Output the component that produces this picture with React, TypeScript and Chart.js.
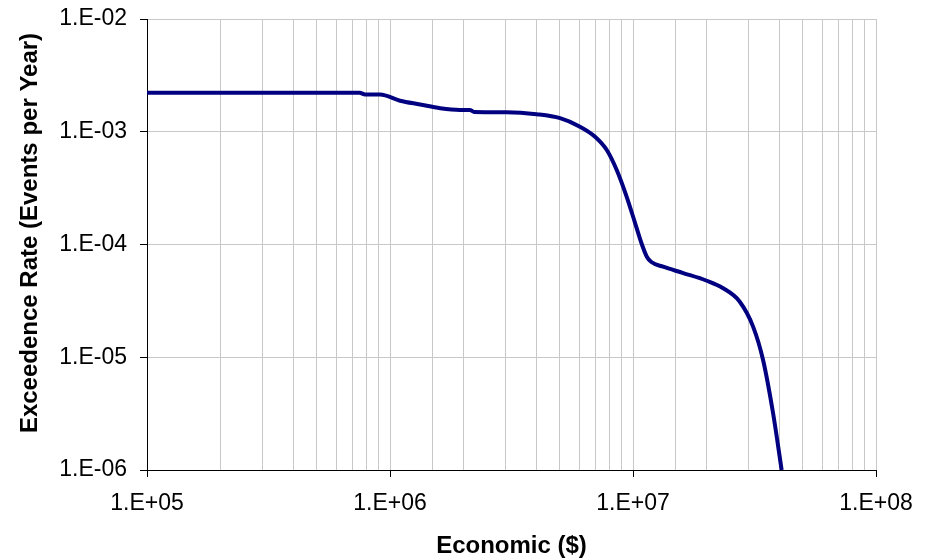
import React, { useEffect, useRef } from "react";
import { Chart, registerables } from "chart.js";

Chart.register(...registerables);

const economicLoss: number[] = [
  1.0e5, 7.5e5, 7.9e5, 9.1e5, 1.1e6, 1.33e6, 1.61e6, 1.94e6, 2.13e6, 2.22e6,
  3.02e6, 4.01e6, 5.01e6, 6.05e6, 6.98e6, 7.8e6, 8.57e6, 9.42e6, 1.02e7, 1.09e7,
  1.14e7, 1.19e7, 1.33e7, 1.61e7, 2.01e7, 2.34e7, 2.75e7, 3.12e7, 3.43e7, 3.77e7,
  4.09e7,
];
const exceedanceRate: number[] = [
  2.22e-3, 2.22e-3, 2.14e-3, 2.14e-3, 1.885e-3, 1.745e-3, 1.615e-3, 1.56e-3, 1.56e-3, 1.5e-3,
  1.49e-3, 1.43e-3, 1.32e-3, 1.11e-3, 9.04e-4, 6.89e-4, 4.58e-4, 2.65e-4, 1.55e-4, 9.9e-5,
  7.8e-5, 7.0e-5, 6.35e-5, 5.58e-5, 4.77e-5, 4.11e-5, 3.11e-5, 1.87e-5, 9.46e-6, 3.2e-6,
  1.0e-6,
];
const yTickValues: number[] = [1e-6, 1e-5, 1e-4, 1e-3, 1e-2];
const xTitle = "Economic ($)";
const yTitle = "Exceedence Rate (Events per Year)";

const FONT = "'Liberation Sans', Arial, sans-serif";

const isDecade = (v: number | undefined) => {
  if (v === undefined || v <= 0) return false;
  const l = Math.log10(v);
  return Math.abs(l - Math.round(l)) < 1e-6;
};
const fmtExp = (v: number) => {
  const e = Math.round(Math.log10(v));
  return `1.E${e < 0 ? "-" : "+"}${String(Math.abs(e)).padStart(2, "0")}`;
};

const yTitlePlugin = {
  id: "yTitleCustom",
  afterDraw(chart: any) {
    const ctx = chart.ctx as CanvasRenderingContext2D;
    ctx.save();
    ctx.translate(30, 233);
    ctx.rotate(-Math.PI / 2);
    ctx.font = `bold 24px ${FONT}`;
    ctx.textAlign = "center";
    ctx.textBaseline = "middle";
    ctx.fillStyle = "#000";
    ctx.fillText(yTitle, 0, 0);
    ctx.restore();
  },
};

export default function App() {
  const ref = useRef<HTMLCanvasElement | null>(null);
  useEffect(() => {
    document.body.style.margin = "0";
    if (!ref.current) return;
    const chart = new Chart(ref.current, {
      type: "line",
      data: {
        datasets: [
          {
            data: economicLoss.map((x, i) => ({ x, y: exceedanceRate[i] })),
            borderColor: "#000080",
            borderWidth: 4,
            pointRadius: 0,
            cubicInterpolationMode: "monotone",
            fill: false,
          },
        ],
      },
      plugins: [yTitlePlugin],
      options: {
        animation: false,
        responsive: false,
        layout: { padding: { top: 19, right: 58, bottom: 0, left: 0 } },
        plugins: { legend: { display: false }, tooltip: { enabled: false } },
        scales: {
          x: {
            type: "logarithmic",
            min: 1e5,
            max: 1e8,
            border: { color: "#000", width: 1 },
            grid: {
              color: "#c8c8c8",
              lineWidth: 1,
              tickLength: 7,
              tickColor: (c: any) => (isDecade(c.tick?.value) ? "#000" : "rgba(0,0,0,0)"),
            },
            ticks: {
              autoSkip: false,
              maxRotation: 0,
              padding: 13,
              color: "#000",
              font: { family: FONT, size: 23 },
              callback: (v: any) => (isDecade(Number(v)) ? fmtExp(Number(v)) : ""),
            },
            title: {
              display: true,
              text: xTitle,
              color: "#000",
              font: { family: FONT, size: 24, weight: "bold", lineHeight: 1.0 },
              padding: { top: 0, bottom: 0 },
            },
            afterFit: (s: any) => {
              s.height = 88;
              s.paddingLeft = 0;
              s.paddingRight = 0;
            },
          },
          y: {
            type: "logarithmic",
            min: 1e-6,
            max: 1e-2,
            afterBuildTicks: (s: any) => {
              s.ticks = yTickValues.map((v) => ({ value: v, major: true }));
            },
            border: { color: "#000", width: 1 },
            grid: {
              color: "#c8c8c8",
              lineWidth: 1,
              tickLength: 7,
              tickColor: "#000",
            },
            ticks: {
              autoSkip: false,
              padding: 13,
              color: "#000",
              font: { family: FONT, size: 23 },
              callback: (v: any) => fmtExp(Number(v)),
            },
            afterFit: (s: any) => {
              s.width = 147;
              s.paddingTop = 0;
              s.paddingBottom = 0;
            },
          },
        },
      },
    } as any);
    return () => chart.destroy();
  }, []);
  return (
    <div style={{ position: "fixed", left: 0, top: 0, width: 934, height: 558, background: "#fff" }}>
      <canvas ref={ref} width={934} height={558} style={{ width: 934, height: 558 }} />
    </div>
  );
}
